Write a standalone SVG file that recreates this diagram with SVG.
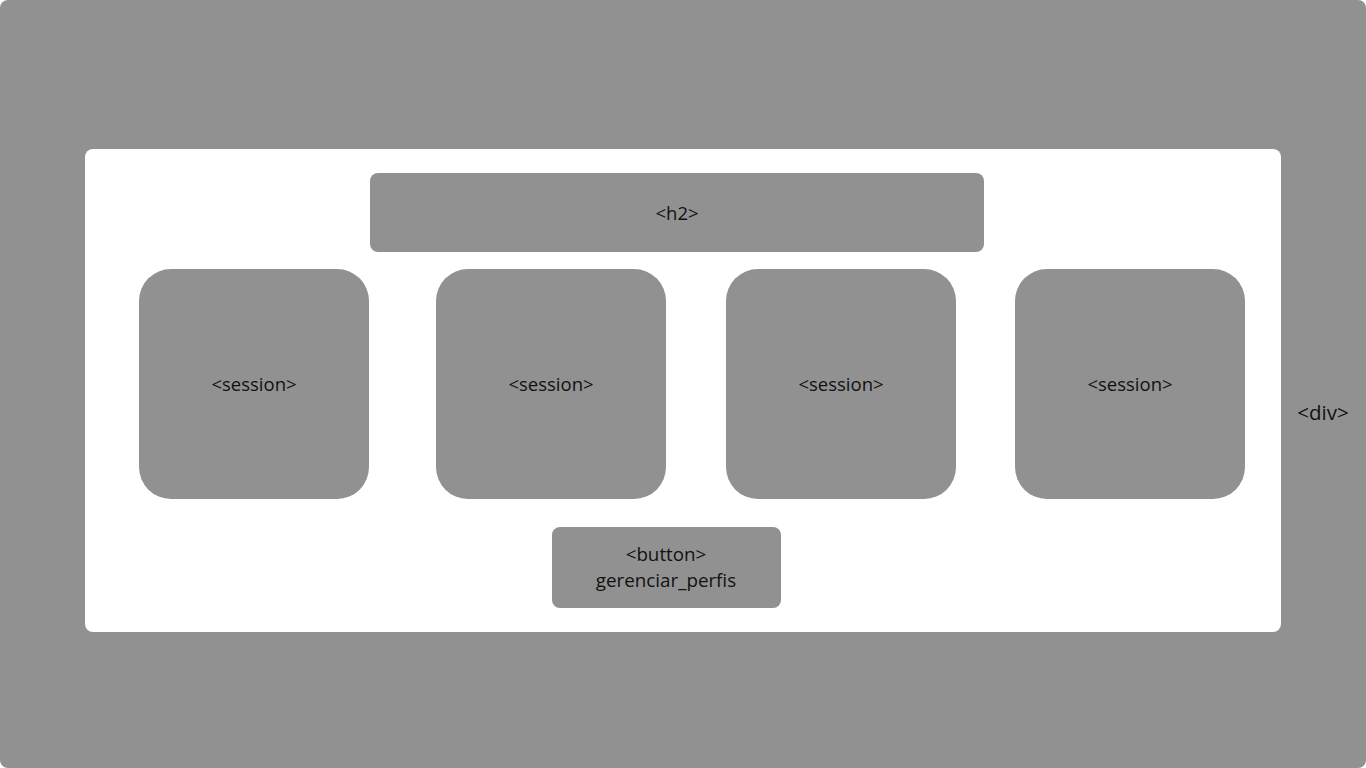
<svg xmlns="http://www.w3.org/2000/svg" width="1366" height="768" viewBox="0 0 1366 768">
<style>
.box{fill:#919191}
.t{font-family:"Open Sans","Liberation Sans",sans-serif;font-size:18.5px;fill:#111;text-anchor:middle;dominant-baseline:central}
</style>
<g id="div">
<rect x="0" y="0" width="1366" height="768" rx="8" class="box"/>
<text class="t" x="1323" y="412" style="font-size:20.5px">&lt;div&gt;</text>
</g>
<g id="container">
<rect x="85" y="149" width="1196" height="483" rx="8" fill="#fff"/>
</g>
<g id="h2">
<rect x="370" y="173" width="614" height="79" rx="8" class="box"/>
<text class="t" x="677" y="212">&lt;h2&gt;</text>
</g>
<g id="session1">
<rect x="139" y="269" width="230" height="230" rx="32" class="box"/>
<text class="t" x="254" y="383">&lt;session&gt;</text>
</g>
<g id="session2">
<rect x="436" y="269" width="230" height="230" rx="32" class="box"/>
<text class="t" x="551" y="383">&lt;session&gt;</text>
</g>
<g id="session3">
<rect x="726" y="269" width="230" height="230" rx="32" class="box"/>
<text class="t" x="841" y="383">&lt;session&gt;</text>
</g>
<g id="session4">
<rect x="1015" y="269" width="230" height="230" rx="32" class="box"/>
<text class="t" x="1130" y="383">&lt;session&gt;</text>
</g>
<g id="button">
<rect x="552" y="527" width="229" height="81" rx="8" class="box"/>
<text class="t" x="666" y="554" style="font-size:18.8px">&lt;button&gt;</text>
<text class="t" x="666" y="580" style="font-size:18.8px">gerenciar_perfis</text>
</g>
<g id="connectors"></g>
</svg>
